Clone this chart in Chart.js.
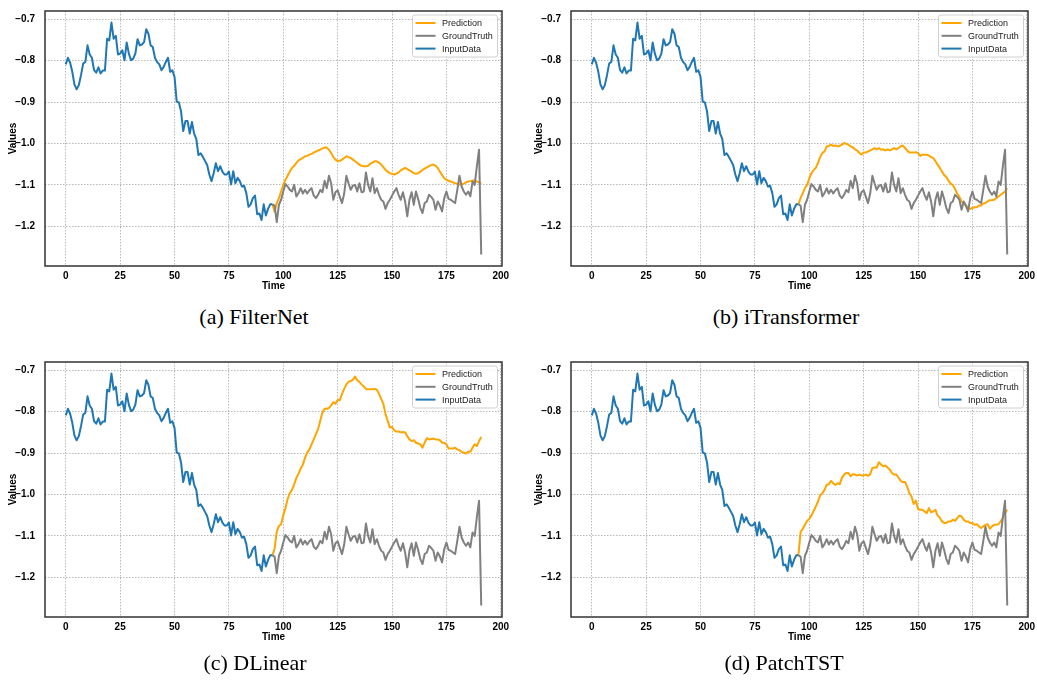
<!DOCTYPE html>
<html>
<head>
<meta charset="utf-8">
<script src="https://cdn.jsdelivr.net/npm/chart.js@4.4.0/dist/chart.umd.min.js"></script>
<style>
	body { margin: 0; background: #fff; width: 1037px; height: 687px; position: relative; overflow: hidden; }
	.panel { position: absolute; }
	.caption { position: absolute; font-family: "Liberation Serif", "Times New Roman", serif; font-size: 22px; color: #000; transform: translate(-50%, -50%); white-space: pre; }
</style>
</head>
<body>
<div class="panel" style="left:0;top:0"><canvas id="c0" width="520" height="300"></canvas></div>
<div class="panel" style="left:526px;top:0"><canvas id="c1" width="511" height="300"></canvas></div>
<div class="panel" style="left:0;top:351px"><canvas id="c2" width="520" height="300"></canvas></div>
<div class="panel" style="left:526px;top:351px"><canvas id="c3" width="511" height="300"></canvas></div>
<div class="caption" id="t0" style="left:254px;top:317px"></div>
<div class="caption" id="t1" style="left:786px;top:317px"></div>
<div class="caption" id="t2" style="left:255px;top:663px"></div>
<div class="caption" id="t3" style="left:784px;top:663px"></div>
<script>
(() => {

	const xTicks = [0, 25, 50, 75, 100, 125, 150, 175, 200];
	const yTicks = [-1.2, -1.1, -1.0, -0.9, -0.8, -0.7];

	const seriesNames = ['Prediction', 'GroundTruth', 'InputData'];
	const seriesColors = ['#ffa500', '#808080', '#1f77b4'];

	const models = ['FilterNet', 'iTransformer', 'DLinear', 'PatchTST'];
	const letters = ['(a)', '(b)', '(c)', '(d)'];

	// t = 0..95
	const inputData = [
		-0.809, -0.793, -0.805, -0.827, -0.858, -0.869, -0.859, -0.835, -0.807, -0.803,
		-0.763, -0.785, -0.793, -0.823, -0.829, -0.816, -0.831, -0.824, -0.824, -0.747,
		-0.751, -0.708, -0.747, -0.740, -0.785, -0.783, -0.775, -0.799, -0.756, -0.783,
		-0.799, -0.795, -0.783, -0.748, -0.763, -0.761, -0.755, -0.724, -0.735, -0.763,
		-0.767, -0.793, -0.803, -0.809, -0.823, -0.815, -0.803, -0.793, -0.827, -0.823,
		-0.839, -0.899, -0.901, -0.923, -0.970, -0.946, -0.946, -0.976, -0.948, -0.976,
		-0.989, -1.028, -1.024, -1.032, -1.042, -1.052, -1.075, -1.091, -1.072, -1.048,
		-1.067, -1.055, -1.068, -1.075, -1.075, -1.068, -1.099, -1.067, -1.096, -1.083,
		-1.091, -1.104, -1.102, -1.120, -1.153, -1.147, -1.132, -1.126, -1.171, -1.169,
		-1.185, -1.147, -1.174, -1.158, -1.147, -1.147
	];

	// t = 96..191
	const groundTruth = [
		-1.150, -1.190, -1.148, -1.136, -1.116, -1.098, -1.104, -1.112, -1.116, -1.100,
		-1.128, -1.120, -1.108, -1.121, -1.112, -1.121, -1.113, -1.108, -1.126, -1.132,
		-1.124, -1.112, -1.118, -1.090, -1.108, -1.078, -1.096, -1.136, -1.118, -1.113,
		-1.129, -1.144, -1.121, -1.078, -1.096, -1.112, -1.102, -1.100, -1.116, -1.096,
		-1.118, -1.116, -1.070, -1.100, -1.116, -1.084, -1.120, -1.108, -1.124, -1.136,
		-1.140, -1.158, -1.144, -1.136, -1.126, -1.116, -1.108, -1.124, -1.136, -1.118,
		-1.140, -1.176, -1.136, -1.118, -1.148, -1.116, -1.134, -1.156, -1.168, -1.144,
		-1.140, -1.124, -1.129, -1.136, -1.160, -1.140, -1.150, -1.164, -1.132, -1.116,
		-1.134, -1.136, -1.140, -1.144, -1.112, -1.078, -1.104, -1.116, -1.124, -1.116,
		-1.128, -1.092, -1.100, -1.055, -1.015, -1.268
	];

	const predFilterNet = [
		-1.165, -1.144, -1.132, -1.116, -1.100, -1.088, -1.078, -1.068, -1.059, -1.054,
		-1.047, -1.041, -1.038, -1.035, -1.031, -1.030, -1.027, -1.025, -1.022, -1.019,
		-1.017, -1.015, -1.012, -1.010, -1.010, -1.015, -1.023, -1.033, -1.039, -1.043,
		-1.042, -1.039, -1.035, -1.031, -1.033, -1.035, -1.039, -1.043, -1.047, -1.051,
		-1.054, -1.055, -1.055, -1.054, -1.049, -1.046, -1.043, -1.043, -1.046, -1.051,
		-1.057, -1.064, -1.068, -1.072, -1.073, -1.075, -1.073, -1.070, -1.065, -1.062,
		-1.059, -1.062, -1.065, -1.068, -1.072, -1.073, -1.072, -1.068, -1.064, -1.061,
		-1.058, -1.055, -1.052, -1.051, -1.054, -1.059, -1.068, -1.076, -1.084, -1.088,
		-1.090, -1.092, -1.094, -1.096, -1.097, -1.099, -1.099, -1.097, -1.094, -1.092,
		-1.091, -1.090, -1.089, -1.092, -1.094, -1.097
	];

	const predITransformer = [
		-1.132, -1.120, -1.108, -1.100, -1.084, -1.072, -1.064, -1.059, -1.047, -1.033,
		-1.023, -1.019, -1.007, -1.006, -1.003, -1.006, -1.005, -1.007, -1.006, -1.003,
		-0.999, -1.001, -1.003, -1.007, -1.009, -1.014, -1.017, -1.023, -1.027, -1.022,
		-1.022, -1.019, -1.017, -1.014, -1.011, -1.014, -1.011, -1.015, -1.014, -1.017,
		-1.014, -1.017, -1.014, -1.011, -1.014, -1.011, -1.007, -1.005, -1.011, -1.017,
		-1.022, -1.022, -1.022, -1.021, -1.023, -1.030, -1.027, -1.027, -1.027, -1.029,
		-1.033, -1.035, -1.043, -1.051, -1.059, -1.068, -1.076, -1.081, -1.090, -1.097,
		-1.100, -1.110, -1.121, -1.129, -1.140, -1.145, -1.150, -1.154, -1.158, -1.156,
		-1.154, -1.154, -1.150, -1.150, -1.145, -1.144, -1.140, -1.137, -1.137, -1.136,
		-1.132, -1.128, -1.124, -1.120, -1.116, -1.108
	];

	const predDLinear = [
		-1.131, -1.090, -1.076, -1.072, -1.050, -1.033, -1.011, -0.997, -0.989, -0.976,
		-0.960, -0.950, -0.937, -0.928, -0.911, -0.899, -0.891, -0.879, -0.867, -0.854,
		-0.842, -0.822, -0.802, -0.793, -0.793, -0.791, -0.785, -0.777, -0.781, -0.772,
		-0.772, -0.757, -0.745, -0.734, -0.728, -0.726, -0.723, -0.715, -0.724, -0.728,
		-0.734, -0.739, -0.745, -0.746, -0.746, -0.746, -0.745, -0.747, -0.757, -0.769,
		-0.781, -0.806, -0.822, -0.838, -0.837, -0.845, -0.848, -0.848, -0.850, -0.849,
		-0.850, -0.859, -0.867, -0.871, -0.869, -0.875, -0.877, -0.879, -0.887, -0.875,
		-0.864, -0.867, -0.866, -0.865, -0.867, -0.867, -0.869, -0.875, -0.875, -0.879,
		-0.889, -0.889, -0.889, -0.887, -0.891, -0.893, -0.897, -0.899, -0.901, -0.897,
		-0.897, -0.887, -0.879, -0.883, -0.871, -0.861
	];

	const predPatchTST = [
		-1.091, -1.083, -1.073, -1.064, -1.059, -1.051, -1.040, -1.029, -1.017, -1.002,
		-0.997, -0.989, -0.977, -0.975, -0.967, -0.973, -0.977, -0.973, -0.975, -0.960,
		-0.952, -0.948, -0.948, -0.956, -0.951, -0.952, -0.954, -0.952, -0.954, -0.954,
		-0.952, -0.955, -0.951, -0.936, -0.935, -0.935, -0.922, -0.928, -0.932, -0.930,
		-0.935, -0.940, -0.948, -0.952, -0.952, -0.959, -0.967, -0.970, -0.970, -0.981,
		-0.997, -1.005, -1.023, -1.015, -1.035, -1.037, -1.037, -1.041, -1.045, -1.033,
		-1.043, -1.041, -1.037, -1.051, -1.056, -1.065, -1.069, -1.069, -1.065, -1.065,
		-1.061, -1.064, -1.057, -1.051, -1.053, -1.061, -1.065, -1.065, -1.069, -1.069,
		-1.073, -1.072, -1.077, -1.081, -1.077, -1.073, -1.072, -1.083, -1.077, -1.073,
		-1.073, -1.072, -1.065, -1.056, -1.045, -1.037
	];

	const predictions = [predFilterNet, predITransformer, predDLinear, predPatchTST];

	Chart.defaults.font.family = '"Liberation Sans", Arial, sans-serif';
	Chart.defaults.color = '#000';

	const last = inputData.length - 1;
	const toPoints = (vals, start) => vals.map((v, i) => ({ x: start + i, y: v }));
	const afterInput = (vals) => [{ x: last, y: inputData[last] }].concat(toPoints(vals, inputData.length));

	const fmt = (v) => String(v).replace('-', '\u2212');

	// matplotlib style box legend in the upper right
	const boxLegend = {
		id: 'boxLegend',
		afterDatasetsDraw(chart) {
			const { ctx, chartArea: a } = chart;
			const w = 85, h = 42;
			const x0 = a.right - 4.5 - w, y0 = a.top + 4;
			ctx.save();
			ctx.beginPath();
			ctx.roundRect(x0, y0, w, h, 2.5);
			ctx.fillStyle = 'rgba(255,255,255,0.8)';
			ctx.fill();
			ctx.strokeStyle = '#d0d0d0';
			ctx.lineWidth = 1;
			ctx.stroke();
			ctx.font = '9px "Liberation Sans", Arial, sans-serif';
			ctx.textBaseline = 'middle';
			chart.data.datasets.forEach((ds, i) => {
				const y = y0 + 8 + 12.8 * i;
				ctx.strokeStyle = ds.borderColor;
				ctx.lineWidth = 2;
				ctx.beginPath();
				ctx.moveTo(x0 + 3, y);
				ctx.lineTo(x0 + 23, y);
				ctx.stroke();
				ctx.fillStyle = '#222';
				ctx.fillText(ds.label, x0 + 29.5, y + 0.5);
			});
			ctx.restore();
		}
	};

	const frame = {
		id: 'frame',
		afterDraw(chart) {
			const { ctx, chartArea: a } = chart;
			ctx.save();
			ctx.strokeStyle = '#333';
			ctx.lineWidth = 1.5;
			ctx.strokeRect(a.left, a.top, a.right - a.left, a.bottom - a.top);
			ctx.restore();
		}
	};

	const gridOpts = { color: 'rgba(140,140,140,0.75)', lineWidth: 0.8, drawTicks: false };

	const drawPanel = (idx, padRight) => {
		const pred = predictions[idx];
		const datasets = [afterInput(pred), afterInput(groundTruth), toPoints(inputData, 0)].map((data, i) => ({
			label: seriesNames[i],
			data: data,
			borderColor: seriesColors[i],
			backgroundColor: seriesColors[i],
			borderWidth: 2,
			pointRadius: 0,
			tension: 0,
			borderJoinStyle: 'round',
			order: 3 - i
		}));

		new Chart('c' + idx, {
			type: 'line',
			data: { datasets: datasets },
			plugins: [boxLegend, frame],
			options: {
				responsive: false,
				animation: false,
				devicePixelRatio: 1,
				layout: { padding: { left: 0, top: 11, right: padRight, bottom: 0 } },
				plugins: { legend: { display: false }, tooltip: { enabled: false } },
				scales: {
					x: {
						type: 'linear',
						min: -9.55,
						max: 200.55,
						afterBuildTicks: (s) => { s.ticks = xTicks.map((v) => ({ value: v })); },
						afterFit: (s) => { s.height = 34; s.paddingLeft = 0; s.paddingRight = 0; },
						ticks: { font: { size: 10, weight: 'bold' }, padding: 4, maxRotation: 0, callback: fmt },
						grid: gridOpts,
						border: { display: false, dash: [1.5, 1.5] },
						title: { display: true, text: 'Time', font: { size: 10, weight: 'bold' }, padding: { top: 0, bottom: 8 } }
					},
					y: {
						type: 'linear',
						min: -1.296,
						max: -0.680,
						afterBuildTicks: (s) => { s.ticks = yTicks.map((v) => ({ value: v })); },
						afterFit: (s) => { s.width = 45; s.paddingTop = 0; s.paddingBottom = 0; },
						ticks: { font: { size: 10, weight: 'bold' }, padding: 10, callback: (v) => fmt(v.toFixed(1)) },
						grid: gridOpts,
						border: { display: false, dash: [1.5, 1.5] },
						title: { display: true, text: 'Values', font: { size: 10, weight: 'bold' }, padding: { top: 7, bottom: 0 } }
					}
				}
			}
		});

		document.getElementById('t' + idx).textContent = letters[idx] + ' ' + models[idx];
	};

	drawPanel(0, 18);
	drawPanel(1, 9);
	drawPanel(2, 18);
	drawPanel(3, 9);
})();
</script>
</body>
</html>
